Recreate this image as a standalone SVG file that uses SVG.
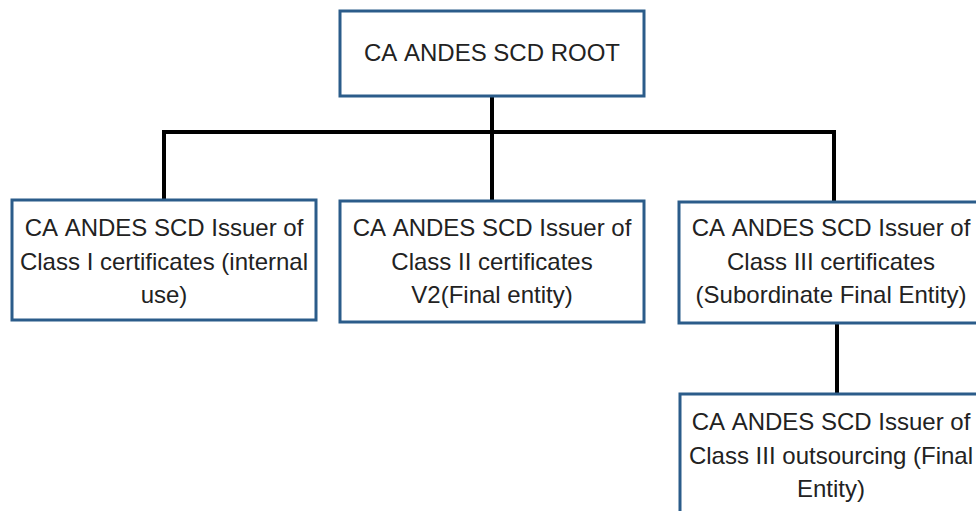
<svg xmlns="http://www.w3.org/2000/svg" width="976" height="511" viewBox="0 0 976 511">
<style>
.box{fill:#ffffff;stroke:#2b5c8a;stroke-width:3}
.t{font-family:"Liberation Sans",Arial,sans-serif;font-size:24px;fill:#222222;text-anchor:middle;font-kerning:none}
.c{fill:none;stroke:#000000;stroke-width:4;stroke-linecap:square}
</style>
<rect width="976" height="511" fill="#ffffff"/>
<g id="connectors">
<path class="c" d="M492 96 V200"/>
<path class="c" d="M164 132 H834"/>
<path class="c" d="M164 132 V199"/>
<path class="c" d="M834 132 V202"/>
<path class="c" d="M837 324 V393"/>
</g>
<g id="root">
<rect class="box" x="340" y="11" width="304" height="85"/>
<text class="t" x="492" y="61">CA ANDES SCD ROOT</text>
</g>
<g id="class1">
<rect class="box" x="12" y="200" width="304" height="120"/>
<text class="t" x="164" y="236">CA ANDES SCD Issuer of</text>
<text class="t" x="164" y="270">Class I certificates (internal</text>
<text class="t" x="164" y="303">use)</text>
</g>
<g id="class2">
<rect class="box" x="340" y="201" width="304" height="121"/>
<text class="t" x="492" y="236">CA ANDES SCD Issuer of</text>
<text class="t" x="492" y="270">Class II certificates</text>
<text class="t" x="492" y="303">V2(Final entity)</text>
</g>
<g id="class3">
<rect class="box" x="679" y="202" width="304" height="121"/>
<text class="t" x="831" y="236">CA ANDES SCD Issuer of</text>
<text class="t" x="831" y="270">Class III certificates</text>
<text class="t" x="831" y="303">(Subordinate Final Entity)</text>
</g>
<g id="class3out">
<rect class="box" x="680" y="394" width="304" height="125"/>
<text class="t" x="831" y="430">CA ANDES SCD Issuer of</text>
<text class="t" x="831" y="464">Class III outsourcing (Final</text>
<text class="t" x="831" y="497">Entity)</text>
</g>
</svg>
